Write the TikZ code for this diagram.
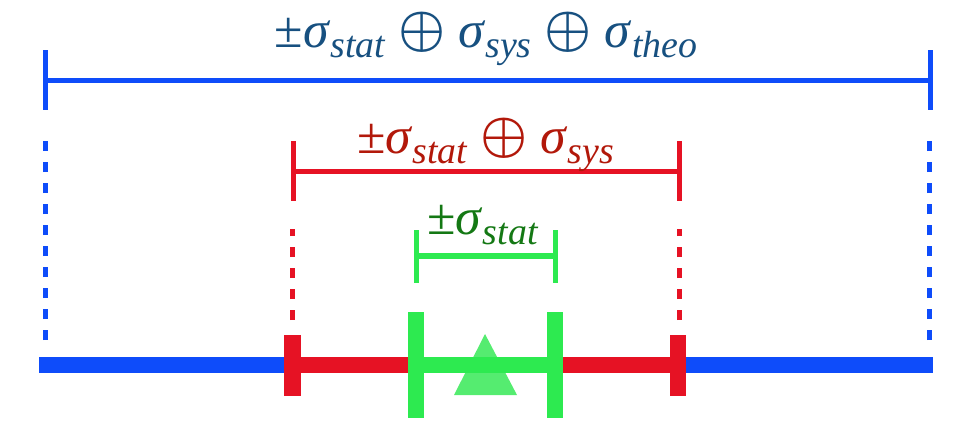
\documentclass[tikz,border=0pt]{standalone}
\usepackage{fontspec}
\usepackage{graphicx}
\setmainfont{Liberation Serif}[ItalicFont={Liberation Serif Italic}]
\definecolor{lblue}{RGB}{14,76,250}
\definecolor{lred}{RGB}{230,18,36}
\definecolor{lgreen}{RGB}{45,234,80}
\definecolor{tri}{RGB}{85,236,112}
\definecolor{tblue}{RGB}{23,80,128}
\definecolor{tred}{RGB}{178,24,10}
\definecolor{tgreen}{RGB}{20,120,20}
\newcommand{\sgm}[1]{\textit{σ}\raisebox{-10bp}{\fontsize{38}{40}\selectfont\itshape #1}}
\newcommand{\opl}{\raisebox{2bp}{\scalebox{5.3}{\fontsize{10}{12}\selectfont\boldmath$\oplus$}}}
\begin{document}
\begin{tikzpicture}[x=1bp,y=-1bp,
  brk/.style={line width=5bp},
  bar/.style={line width=16bp},
  dots/.style={line width=5bp, dash pattern=on 10bp off 11bp},
  lbl/.style={anchor=base, inner sep=0pt, font=\fontsize{52}{56}\selectfont}]
\useasboundingbox (0,0) rectangle (965,420);
% blue
\coordinate (bLt) at (45,50); \coordinate (bLb) at (45,110); \coordinate (bL) at (45,80);
\coordinate (bRt) at (930.5,50); \coordinate (bRb) at (930.5,110); \coordinate (bR) at (930.5,80);
\coordinate (bLd1) at (45,340); \coordinate (bLd2) at (45,140);
\coordinate (bRd1) at (929,340); \coordinate (bRd2) at (929,140);
\coordinate (bbL) at (39,365); \coordinate (bbR) at (933,365);
\draw[brk,lblue] (bLt) -- (bLb); \draw[brk,lblue] (bRt) -- (bRb); \draw[brk,lblue] (bL) -- (bR);
\draw[dots,lblue] (bLd1) -- (bLd2); \draw[dots,lblue] (bRd1) -- (bRd2);
\draw[bar,lblue] (bbL) -- (bbR);
% red
\coordinate (rLt) at (293,141); \coordinate (rLb) at (293,201); \coordinate (rL) at (293,171);
\coordinate (rRt) at (679,141); \coordinate (rRb) at (679,201); \coordinate (rR) at (679,171);
\coordinate (rLd1) at (292.5,320); \coordinate (rLd2) at (292.5,229);
\coordinate (rRd1) at (679.5,320); \coordinate (rRd2) at (679.5,229);
\coordinate (rbL) at (293,365); \coordinate (rbR) at (678,365);
\draw[brk,lred] (rLt) -- (rLb); \draw[brk,lred] (rRt) -- (rRb); \draw[brk,lred] (rL) -- (rR);
\draw[dots,lred] (rLd1) -- (rLd2); \draw[dots,lred] (rRd1) -- (rRd2);
\draw[bar,lred] (rbL) -- (rbR);
\coordinate (rm1t) at (292.5,335); \coordinate (rm1b) at (292.5,396);
\coordinate (rm2t) at (678,335); \coordinate (rm2b) at (678,396);
\draw[line width=17bp,lred] (rm1t) -- (rm1b);
\draw[line width=16bp,lred] (rm2t) -- (rm2b);
% green
\fill[tri] (485,334) -- (517,395) -- (454,395) -- cycle;
\coordinate (gLt) at (416.5,230); \coordinate (gLb) at (416.5,283); \coordinate (gL) at (416.5,256);
\coordinate (gRt) at (555.5,230); \coordinate (gRb) at (555.5,283); \coordinate (gR) at (555.5,256);
\coordinate (gbL) at (416,365); \coordinate (gbR) at (555,365);
\draw[brk,lgreen] (gLt) -- (gLb); \draw[brk,lgreen] (gRt) -- (gRb); \draw[line width=5.5bp,lgreen] (gL) -- (gR);
\draw[bar,lgreen] (gbL) -- (gbR);
\coordinate (gm1t) at (416,312); \coordinate (gm1b) at (416,418);
\coordinate (gm2t) at (555,312); \coordinate (gm2b) at (555,418);
\draw[bar,lgreen] (gm1t) -- (gm1b); \draw[bar,lgreen] (gm2t) -- (gm2b);
% labels
\node[lbl,text=tblue] (ttop) at (486,47) {±\sgm{stat} \opl{} \sgm{sys} \opl{} \sgm{theo}};
\node[lbl,text=tred] (tmid) at (485.5,153) {±\sgm{stat} \opl{} \sgm{sys}};
\node[lbl,text=tgreen] (tlow) at (482.5,234) {±\sgm{stat}};
\end{tikzpicture}
\end{document}
